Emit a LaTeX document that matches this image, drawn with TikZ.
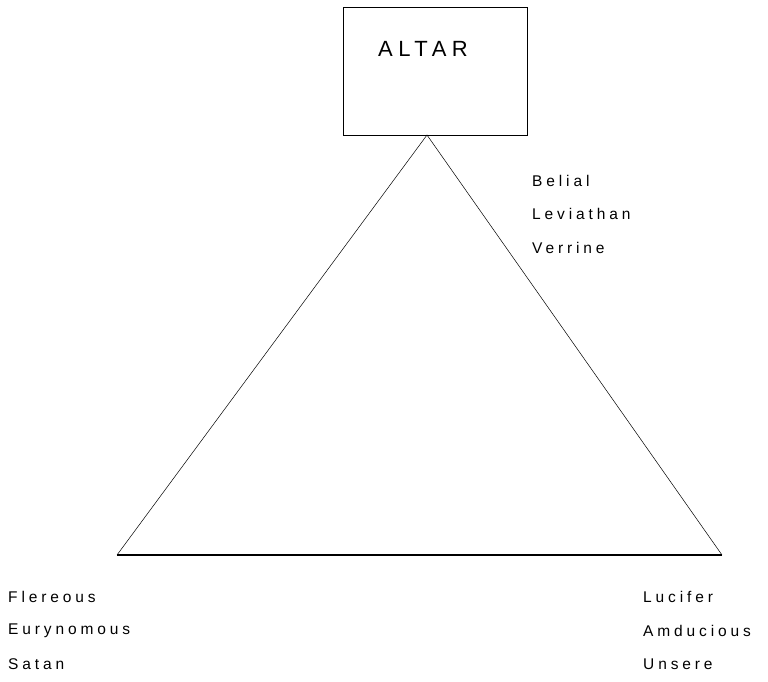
\documentclass[tikz,border=0pt]{standalone}
\usepackage{fontspec}
\setmainfont{Liberation Sans}
\newfontfamily\labfont[LetterSpace=25]{Liberation Sans}
\begin{document}
\begin{tikzpicture}[x=1pt,y=-1pt,
  boxstyle/.style={draw=black,line width=1pt,minimum width=184pt,minimum height=128pt,inner sep=0pt},
  lab/.style={anchor=west,inner sep=0pt,font=\labfont\fontsize{15.5}{18}\selectfont},
  side/.style={draw=black,line width=0.5pt},
  base/.style={draw=black,line width=1.2pt}]
\useasboundingbox (0,0) rectangle (768,681);
\node[boxstyle] (altar) at (435,71) {};
\node[font=\labfont\fontsize{22}{26}\selectfont,inner sep=0pt] (altartext) at (423,49) {ALTAR};
\coordinate (apex) at (427,135);
\coordinate (bl) at (117,555);
\coordinate (br) at (722,555);
\draw[side] (bl) -- (apex) -- (br);
\draw[base] (bl) -- (br);
\node[lab] (belial) at (532,181) {Belial};
\node[lab] (leviathan) at (532,214) {Leviathan};
\node[lab] (verrine) at (532,248) {Verrine};
\node[lab] (flereous) at (8,597) {Flereous};
\node[lab] (eurynomous) at (8,631) {Eurynomous};
\node[lab] (satan) at (8,664) {Satan};
\node[lab] (lucifer) at (643,597) {Lucifer};
\node[lab] (amducious) at (643,631) {Amducious};
\node[lab] (unsere) at (643,664) {Unsere};
\end{tikzpicture}
\end{document}
